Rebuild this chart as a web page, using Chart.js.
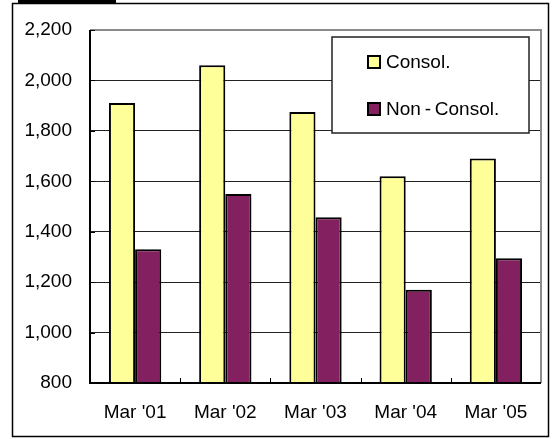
<!DOCTYPE html>
<html>
<head>
<meta charset="utf-8">
<script src="https://cdn.jsdelivr.net/npm/chart.js@4.4.1/dist/chart.umd.min.js"></script>
<style>
  html, body { margin: 0; padding: 0; background: #fff; }
</style>
</head>
<body>
<canvas id="ventas" width="552" height="439"></canvas>
<script>
// datos
const categorias = ["Mar '01", "Mar '02", "Mar '03", "Mar '04", "Mar '05"];
const consol = [1910, 2060, 1875, 1620, 1690];
const noConsol = [1330, 1550, 1457, 1170, 1295];
const etiquetas = ["Consol.", "Non\u2009-\u2009Consol."];
const colores = ["#FFFF99", "#822060"];
const yMin = 800;
const yMax = 2200;
const yPaso = 200;

const fuente = "'Liberation Sans', Arial, sans-serif";

// marco exterior, bordes del area y leyenda dibujados a mano
const marco = {
  id: "marco",
  beforeDraw(chart) {
    const c = chart.ctx;
    c.save();
    c.fillStyle = "#fff";
    c.fillRect(0, 0, chart.width, chart.height);
    c.strokeStyle = "#000";
    c.lineWidth = 1.5;
    c.strokeRect(12.5, 3.5, 536, 433);
    c.fillStyle = "#000";
    c.fillRect(18, 0, 98, 3);
    c.restore();
  },
  afterDatasetsDraw(chart) {
    const c = chart.ctx;
    const a = chart.chartArea;
    const x = chart.scales.x;
    const y = chart.scales.y;
    c.save();
    // arriba y derecha en gris
    c.strokeStyle = "#8c8c8c";
    c.lineWidth = 2;
    c.beginPath();
    c.moveTo(a.left, a.top);
    c.lineTo(a.right, a.top);
    c.lineTo(a.right, a.bottom);
    c.stroke();
    // ejes en negro
    c.strokeStyle = "#000";
    c.lineWidth = 2;
    c.beginPath();
    c.moveTo(a.left, a.top);
    c.lineTo(a.left, a.bottom);
    c.lineTo(a.right, a.bottom);
    c.stroke();
    // marcas cortas
    c.lineWidth = 1;
    c.beginPath();
    for (let v = yMin; v <= yMax; v += yPaso) {
      const py = Math.round(y.getPixelForValue(v)) + 0.5;
      c.moveTo(a.left, py);
      c.lineTo(a.left + 5, py);
    }
    for (let i = 1; i < categorias.length; i++) {
      const px = Math.round((x.getPixelForValue(i - 1) + x.getPixelForValue(i)) / 2) + 0.5;
      c.moveTo(px, a.bottom);
      c.lineTo(px, a.bottom - 5);
    }
    c.stroke();

    // leyenda
    c.fillStyle = "#fff";
    c.fillRect(332, 37, 197, 96);
    c.strokeStyle = "#222";
    c.lineWidth = 1.5;
    c.strokeRect(332, 37, 197, 96);
    c.font = "19px " + fuente;
    c.textBaseline = "middle";
    chart.data.datasets.forEach((ds, i) => {
      const cy = 62 + i * 47;
      c.fillStyle = ds.backgroundColor;
      c.fillRect(368, cy - 6, 12, 12);
      c.strokeStyle = "#000";
      c.lineWidth = 2;
      c.strokeRect(368, cy - 6, 12, 12);
      c.fillStyle = "#000";
      c.fillText(ds.label, 386, cy + 1);
    });
    c.restore();
  }
};

new Chart(document.getElementById("ventas"), {
  type: "bar",
  data: {
    labels: categorias,
    datasets: [
      {
        label: etiquetas[0],
        data: consol,
        backgroundColor: colores[0],
        borderColor: "#000",
        borderWidth: 2,
      },
      {
        label: etiquetas[1],
        data: noConsol,
        backgroundColor: colores[1],
        borderColor: "#000",
        borderWidth: 2,
      },
    ],
  },
  options: {
    responsive: false,
    animation: false,
    layout: { padding: { top: 30, right: 11, bottom: 0, left: 0 } },
    datasets: {
      bar: { categoryPercentage: 0.58, barPercentage: 1.0 },
    },
    plugins: {
      legend: { display: false },
      tooltip: { enabled: false },
    },
    scales: {
      x: {
        grid: { display: false, drawTicks: false },
        border: { display: false },
        ticks: {
          color: "#000",
          padding: 18,
          font: { family: fuente, size: 19 },
        },
        afterFit: (s) => { s.height = 56; },
      },
      y: {
        min: yMin,
        max: yMax,
        grid: {
          drawTicks: false,
          color: (ctx) => (ctx.tick && (ctx.tick.value === yMin || ctx.tick.value === yMax)) ? "rgba(0,0,0,0)" : "#222",
          lineWidth: 1,
        },
        border: { display: false },
        ticks: {
          stepSize: yPaso,
          color: "#000",
          padding: 18,
          font: { family: fuente, size: 19 },
          callback: (v) => v.toLocaleString("en-US"),
        },
        afterFit: (s) => { s.width = 90; },
      },
    },
  },
  plugins: [marco],
});
</script>
</body>
</html>
